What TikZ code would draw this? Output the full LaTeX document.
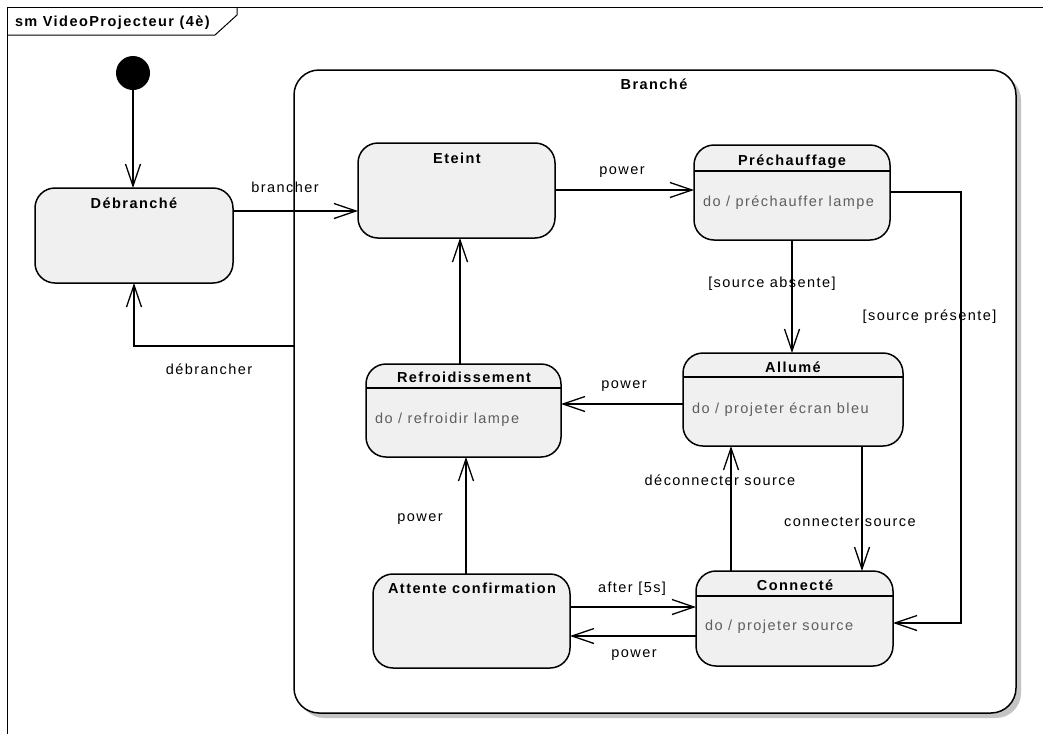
\documentclass[tikz,border=0pt]{standalone}
\usepackage{fontspec}
\setmainfont{Liberation Sans}[LetterSpace=10]
\usetikzlibrary{arrows.meta}
\definecolor{stfill}{HTML}{F0F0F0}
\definecolor{bodytxt}{HTML}{5E5E5E}
\definecolor{shadowc}{HTML}{C4C4C4}
\begin{document}
\begin{tikzpicture}[x=1pt,y=-1pt,
  every node/.style={font=\fontsize{14.5}{17}\selectfont, inner sep=0pt, outer sep=0pt},
  state/.style={draw, line width=1.5pt, fill=stfill, rounded corners=20pt, inner sep=0pt},
  ttl/.style={font=\fontsize{14.5}{17}\selectfont\bfseries, anchor=base},
  bodyt/.style={text=bodytxt, anchor=base west},
  lbl/.style={anchor=base},
  conn/.style={line width=1.3pt, -{Straight Barb[length=22pt,width=15pt]}},
  sepl/.style={line width=1.4pt}]
\useasboundingbox (0,0) rectangle (1043,734);
\fill[white] (0,0) rectangle (1043,734);

% frame
\draw[line width=1pt] (7,734) -- (7,7) -- (1043,7);
\draw[line width=1pt] (7,35) -- (215,35) -- (237,15) -- (237,7);
\node[ttl, anchor=base west] (frametitle) at (15,26.5) {sm VideoProjecteur (4è)};

% composite state Branché
\fill[shadowc, rounded corners=25pt] (299,75) rectangle (1021,718);
\node[draw, line width=1.5pt, fill=white, rounded corners=25pt, minimum width=722pt, minimum height=643pt] (branche) at (655,391.5) {};
\node[ttl] (brancheT) at (654,89) {Branché};

% initial state
\node[circle, fill=black, minimum size=34pt] (init) at (133,73) {};

% states
\node[state, minimum width=198pt, minimum height=95pt] (deb) at (134,235.5) {};
\node[state, minimum width=197pt, minimum height=95pt] (eteint) at (456.5,190.5) {};
\node[state, minimum width=196pt, minimum height=95pt] (prech) at (792,192.5) {};
\node[state, minimum width=220pt, minimum height=93pt] (allume) at (793,399.5) {};
\node[state, minimum width=195pt, minimum height=93pt] (refr) at (463.5,410.5) {};
\node[state, minimum width=197pt, minimum height=94pt] (attente) at (471.5,621) {};
\node[state, minimum width=197pt, minimum height=95pt] (connecte) at (794.5,618.5) {};

% titles
\node[ttl] (debT) at (134,208) {Débranché};
\node[ttl] (eteintT) at (457,163) {Eteint};
\node[ttl] (prechT) at (792,165) {Préchauffage};
\node[ttl] (allumeT) at (793,372) {Allumé};
\node[ttl] (refrT) at (464,382) {Refroidissement};
\node[ttl] (attenteT) at (472,593) {Attente confirmation};
\node[ttl] (connecteT) at (795,590) {Connecté};

% separators
\draw[sepl] (prech.west |- 0,171) -- (prech.east |- 0,171);
\draw[sepl] (allume.west |- 0,377) -- (allume.east |- 0,377);
\draw[sepl] (refr.west |- 0,388) -- (refr.east |- 0,388);
\draw[sepl] (connecte.west |- 0,596) -- (connecte.east |- 0,596);

% bodies
\node[bodyt] (prechB) at (703,206) {do / préchauffer lampe};
\node[bodyt] (allumeB) at (692,413.5) {do / projeter écran bleu};
\node[bodyt] (refrB) at (375,423.5) {do / refroidir lampe};
\node[bodyt] (connecteB) at (705,630.5) {do / projeter source};

% transitions
\draw[conn] (init) -- (init |- deb.north);
\draw[conn] (deb.east |- 0,211) -- (eteint.west |- 0,211);
\draw[conn] (branche.west |- 0,346) -| (deb.south);
\draw[conn] (eteint.east |- 0,190) -- (prech.west |- 0,190);
\draw[conn] (prech.south) -- (prech.south |- allume.north);
\draw[conn] (prech.east |- 0,192) -- (961,192) |- (connecte.east |- 0,623);
\draw[conn] (allume.west |- 0,404) -- (refr.east |- 0,404);
\draw[conn] (refr.north -| 460,0) -- (eteint.south -| 460,0);
\draw[conn] (attente.north -| 466,0) -- (refr.south -| 466,0);
\draw[conn] (attente.east |- 0,607) -- (connecte.west |- 0,607);
\draw[conn] (connecte.west |- 0,636) -- (attente.east |- 0,636);
\draw[conn] (connecte.north -| 731,0) -- (allume.south -| 731,0);
\draw[conn] (allume.south -| 862,0) -- (connecte.north -| 862,0);

% labels
\node[lbl] (l1) at (285,192.5) {brancher};
\node[lbl] (l2) at (209,374.5) {débrancher};
\node[lbl] (l3) at (622,174.5) {power};
\node[lbl] (l4) at (772,287.5) {[source absente]};
\node[lbl] (l5) at (929.5,320.5) {[source présente]};
\node[lbl] (l6) at (624,388.5) {power};
\node[lbl] (l7) at (420,521.5) {power};
\node[lbl] (l8) at (632,592.5) {after [5s]};
\node[lbl] (l9) at (634,657.5) {power};
\node[lbl] (l10) at (720,485.5) {déconnecter source};
\node[lbl] (l11) at (850,526.5) {connecter source};
\end{tikzpicture}
\end{document}
